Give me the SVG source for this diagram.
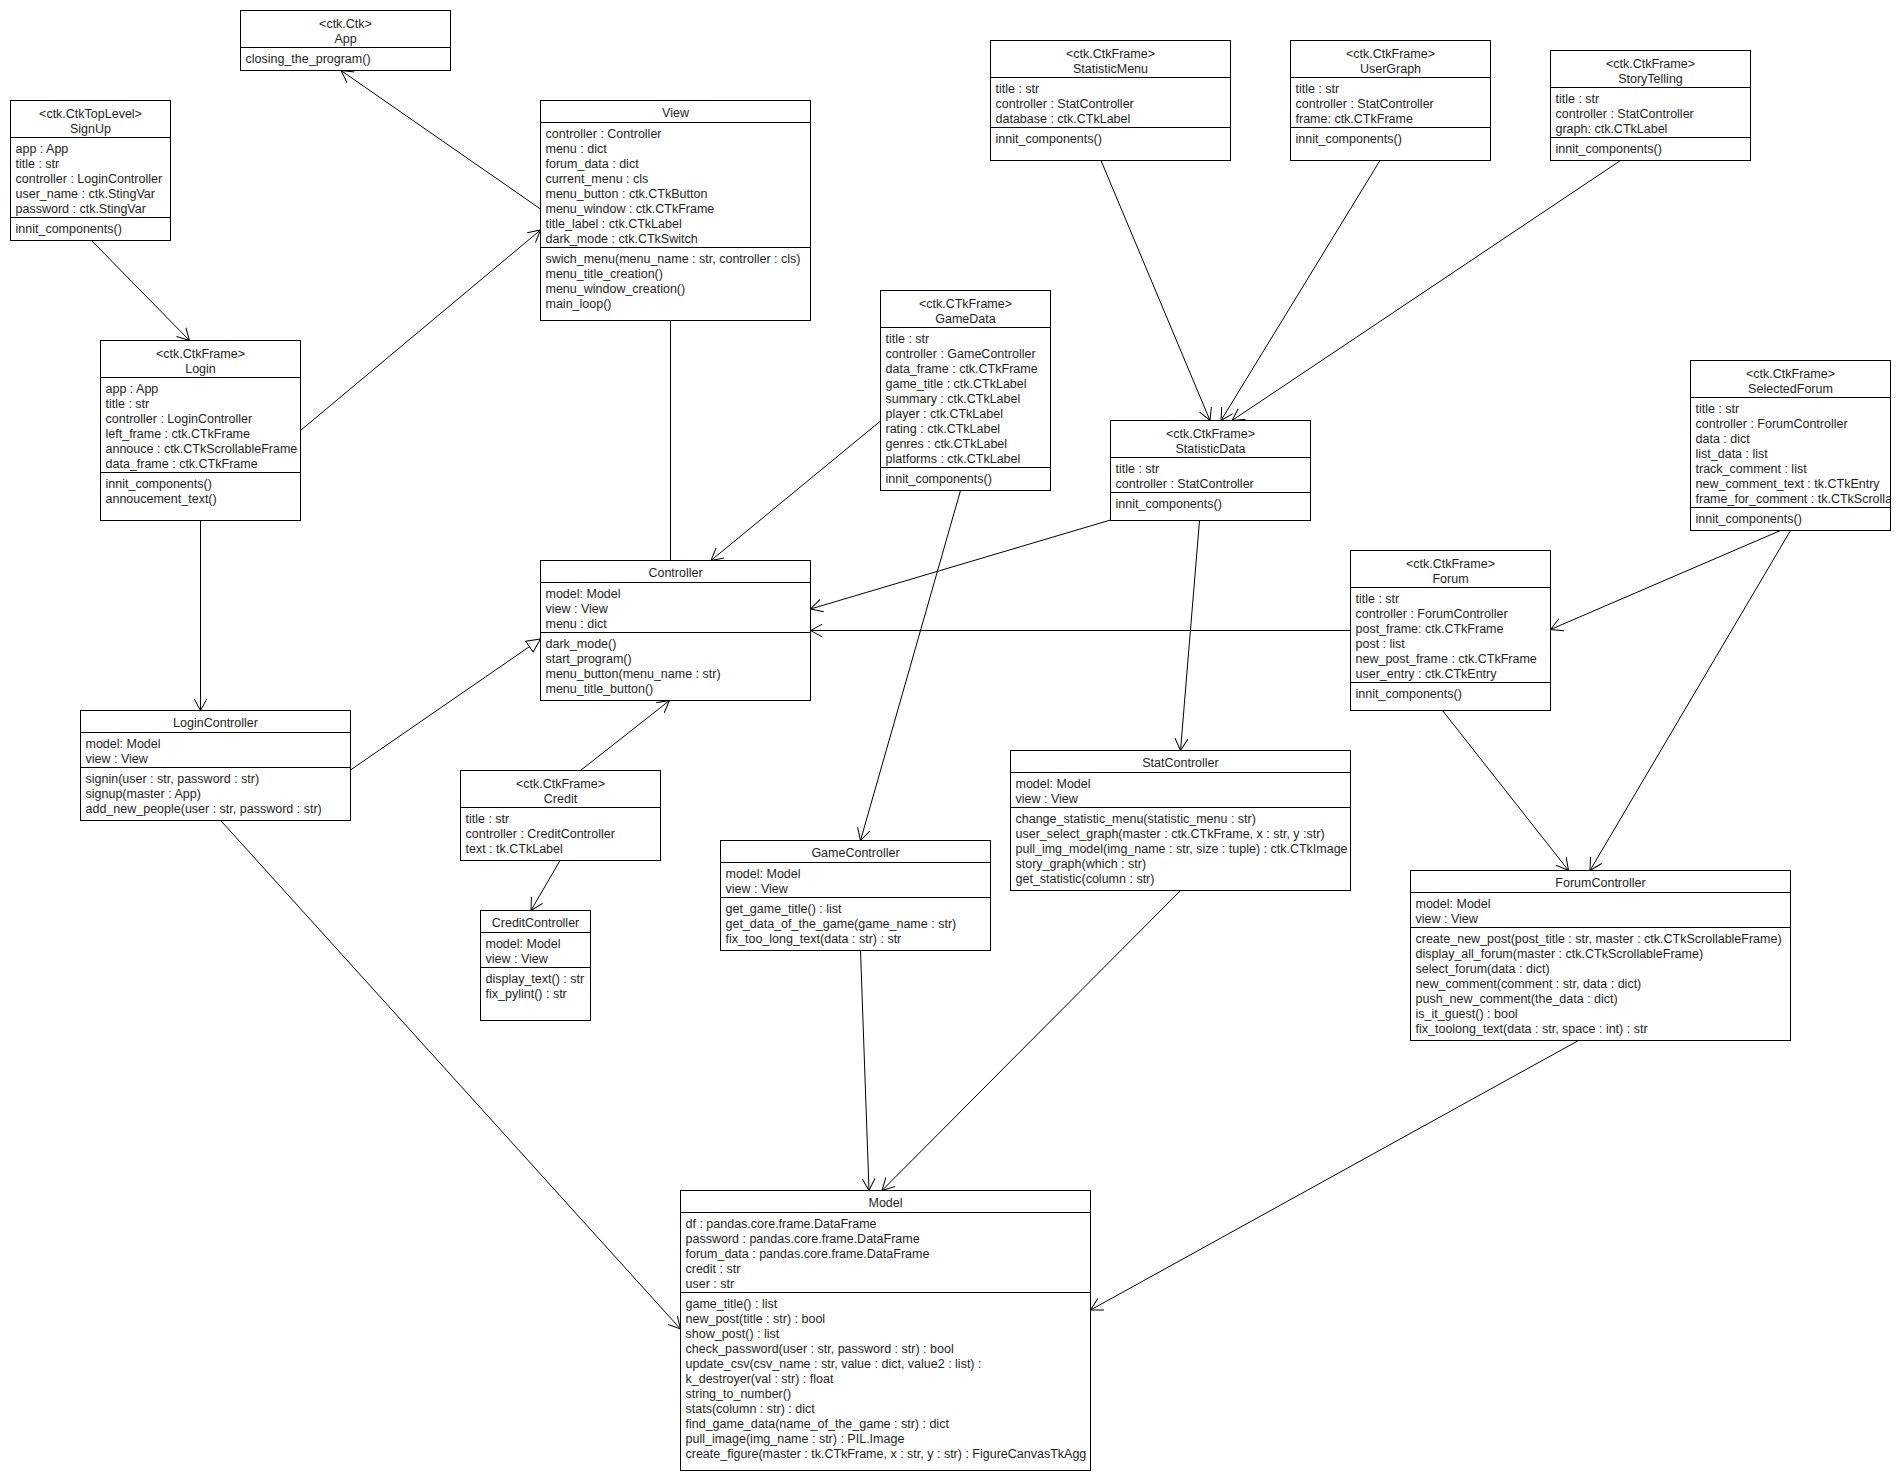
<svg xmlns="http://www.w3.org/2000/svg" width="1900" height="1480" viewBox="0 0 1900 1480">
<style>
.box{fill:#fff;stroke:#000;stroke-width:1}
.sep{stroke:#000;stroke-width:1}
text{font-family:"Liberation Sans",Arial,sans-serif;font-size:12.5px;fill:#1e1e1e}
.c{text-anchor:middle}
.e{stroke:#000;stroke-width:1;fill:none}
.a{marker-end:url(#open)}
.g{marker-end:url(#tri)}
</style>
<defs>
<marker id="open" viewBox="0 0 12 14" refX="12" refY="7" markerWidth="12" markerHeight="14" orient="auto" markerUnits="userSpaceOnUse"><path d="M0,0.5 L12,7 L0,13.5" fill="none" stroke="#000" stroke-width="1"/></marker>
<marker id="tri" viewBox="0 0 15 15" refX="14" refY="7.5" markerWidth="15" markerHeight="15" orient="auto" markerUnits="userSpaceOnUse"><path d="M0.5,1 L14,7.5 L0.5,14 Z" fill="#fff" stroke="#000" stroke-width="1"/></marker>
<clipPath id="clipSF"><rect x="1690.5" y="360.5" width="200" height="170"/></clipPath>
</defs>

<g id="connectors">
<line class="e a" x1="540.5" y1="209" x2="341" y2="70.5"/>
<line class="e a" x1="91.5" y1="240.5" x2="189.5" y2="340.5"/>
<line class="e a" x1="300.5" y1="430.5" x2="540.5" y2="230"/>
<line class="e" x1="670.5" y1="320.5" x2="670.5" y2="560.5"/>
<line class="e a" x1="880.5" y1="421" x2="711" y2="560.5"/>
<line class="e a" x1="200.5" y1="520.5" x2="200.5" y2="710.5"/>
<line class="e g" x1="350.5" y1="770" x2="540.5" y2="639"/>
<line class="e a" x1="580.5" y1="770.5" x2="669.5" y2="700.5"/>
<line class="e a" x1="560" y1="860.5" x2="531" y2="910.5"/>
<line class="e a" x1="220.7" y1="820.5" x2="680.5" y2="1329"/>
<line class="e a" x1="1101" y1="160.5" x2="1210" y2="420.5"/>
<line class="e a" x1="1380" y1="160.5" x2="1221" y2="420.5"/>
<line class="e a" x1="1620.5" y1="160.5" x2="1232" y2="420.5"/>
<line class="e a" x1="1110.5" y1="520" x2="810.5" y2="609"/>
<line class="e a" x1="1199.5" y1="520.5" x2="1180.5" y2="750.5"/>
<line class="e a" x1="960.5" y1="490.5" x2="860.5" y2="840.5"/>
<line class="e a" x1="1350.5" y1="630.5" x2="810.5" y2="630.5"/>
<line class="e a" x1="1780.5" y1="530.5" x2="1550.5" y2="629.5"/>
<line class="e a" x1="1790.5" y1="530.5" x2="1590" y2="870.5"/>
<line class="e a" x1="1442.5" y1="710.5" x2="1568.5" y2="870.5"/>
<line class="e a" x1="860.5" y1="950.5" x2="869" y2="1190.5"/>
<line class="e a" x1="1180.5" y1="890.5" x2="882" y2="1190.5"/>
<line class="e a" x1="1578.5" y1="1040.5" x2="1090.5" y2="1310"/>
</g>

<g id="App">
<rect class="box" x="240.5" y="10.5" width="210" height="60"/>
<line class="sep" x1="240.5" y1="47.5" x2="450.5" y2="47.5"/>
<text class="c" x="345.5" y="27.5">&lt;ctk.Ctk&gt;</text>
<text class="c" x="345.5" y="42.5">App</text>
<text x="245.5" y="62.5">closing_the_program()</text>
</g>

<g id="SignUp">
<rect class="box" x="10.5" y="100.5" width="160" height="140"/>
<line class="sep" x1="10.5" y1="137.5" x2="170.5" y2="137.5"/>
<line class="sep" x1="10.5" y1="217.5" x2="170.5" y2="217.5"/>
<text class="c" x="90.5" y="117.5">&lt;ctk.CtkTopLevel&gt;</text>
<text class="c" x="90.5" y="132.5">SignUp</text>
<text x="15.5" y="152.5">app : App</text>
<text x="15.5" y="167.5">title : str</text>
<text x="15.5" y="182.5">controller : LoginController</text>
<text x="15.5" y="197.5">user_name : ctk.StingVar</text>
<text x="15.5" y="212.5">password : ctk.StingVar</text>
<text x="15.5" y="232.5">innit_components()</text>
</g>

<g id="Login">
<rect class="box" x="100.5" y="340.5" width="200" height="180"/>
<line class="sep" x1="100.5" y1="377.5" x2="300.5" y2="377.5"/>
<line class="sep" x1="100.5" y1="472.5" x2="300.5" y2="472.5"/>
<text class="c" x="200.5" y="357.5">&lt;ctk.CtkFrame&gt;</text>
<text class="c" x="200.5" y="372.5">Login</text>
<text x="105.5" y="392.5">app : App</text>
<text x="105.5" y="407.5">title : str</text>
<text x="105.5" y="422.5">controller : LoginController</text>
<text x="105.5" y="437.5">left_frame : ctk.CTkFrame</text>
<text x="105.5" y="452.5">annouce : ctk.CTkScrollableFrame</text>
<text x="105.5" y="467.5">data_frame : ctk.CTkFrame</text>
<text x="105.5" y="487.5">innit_components()</text>
<text x="105.5" y="502.5">annoucement_text()</text>
</g>

<g id="View">
<rect class="box" x="540.5" y="100.5" width="270" height="220"/>
<line class="sep" x1="540.5" y1="122.5" x2="810.5" y2="122.5"/>
<line class="sep" x1="540.5" y1="247.5" x2="810.5" y2="247.5"/>
<text class="c" x="675.5" y="117">View</text>
<text x="545.5" y="137.5">controller : Controller</text>
<text x="545.5" y="152.5">menu : dict</text>
<text x="545.5" y="167.5">forum_data : dict</text>
<text x="545.5" y="182.5">current_menu : cls</text>
<text x="545.5" y="197.5">menu_button : ctk.CTkButton</text>
<text x="545.5" y="212.5">menu_window : ctk.CTkFrame</text>
<text x="545.5" y="227.5">title_label : ctk.CTkLabel</text>
<text x="545.5" y="242.5">dark_mode : ctk.CTkSwitch</text>
<text x="545.5" y="262.5">swich_menu(menu_name : str, controller : cls)</text>
<text x="545.5" y="277.5">menu_title_creation()</text>
<text x="545.5" y="292.5">menu_window_creation()</text>
<text x="545.5" y="307.5">main_loop()</text>
</g>

<g id="Controller">
<rect class="box" x="540.5" y="560.5" width="270" height="140"/>
<line class="sep" x1="540.5" y1="582.5" x2="810.5" y2="582.5"/>
<line class="sep" x1="540.5" y1="632.5" x2="810.5" y2="632.5"/>
<text class="c" x="675.5" y="577">Controller</text>
<text x="545.5" y="597.5">model: Model</text>
<text x="545.5" y="612.5">view : View</text>
<text x="545.5" y="627.5">menu : dict</text>
<text x="545.5" y="647.5">dark_mode()</text>
<text x="545.5" y="662.5">start_program()</text>
<text x="545.5" y="677.5">menu_button(menu_name : str)</text>
<text x="545.5" y="692.5">menu_title_button()</text>
</g>

<g id="LoginController">
<rect class="box" x="80.5" y="710.5" width="270" height="110"/>
<line class="sep" x1="80.5" y1="732.5" x2="350.5" y2="732.5"/>
<line class="sep" x1="80.5" y1="767.5" x2="350.5" y2="767.5"/>
<text class="c" x="215.5" y="727">LoginController</text>
<text x="85.5" y="747.5">model: Model</text>
<text x="85.5" y="762.5">view : View</text>
<text x="85.5" y="782.5">signin(user : str, password : str)</text>
<text x="85.5" y="797.5">signup(master : App)</text>
<text x="85.5" y="812.5">add_new_people(user : str, password : str)</text>
</g>

<g id="Credit">
<rect class="box" x="460.5" y="770.5" width="200" height="90"/>
<line class="sep" x1="460.5" y1="807.5" x2="660.5" y2="807.5"/>
<text class="c" x="560.5" y="787.5">&lt;ctk.CtkFrame&gt;</text>
<text class="c" x="560.5" y="802.5">Credit</text>
<text x="465.5" y="822.5">title : str</text>
<text x="465.5" y="837.5">controller : CreditController</text>
<text x="465.5" y="852.5">text : tk.CTkLabel</text>
</g>

<g id="CreditController">
<rect class="box" x="480.5" y="910.5" width="110" height="110"/>
<line class="sep" x1="480.5" y1="932.5" x2="590.5" y2="932.5"/>
<line class="sep" x1="480.5" y1="967.5" x2="590.5" y2="967.5"/>
<text class="c" x="535.5" y="927">CreditController</text>
<text x="485.5" y="947.5">model: Model</text>
<text x="485.5" y="962.5">view : View</text>
<text x="485.5" y="982.5">display_text() : str</text>
<text x="485.5" y="997.5">fix_pylint() : str</text>
</g>

<g id="GameData">
<rect class="box" x="880.5" y="290.5" width="170" height="200"/>
<line class="sep" x1="880.5" y1="327.5" x2="1050.5" y2="327.5"/>
<line class="sep" x1="880.5" y1="467.5" x2="1050.5" y2="467.5"/>
<text class="c" x="965.5" y="307.5">&lt;ctk.CTkFrame&gt;</text>
<text class="c" x="965.5" y="322.5">GameData</text>
<text x="885.5" y="342.5">title : str</text>
<text x="885.5" y="357.5">controller : GameController</text>
<text x="885.5" y="372.5">data_frame : ctk.CTkFrame</text>
<text x="885.5" y="387.5">game_title : ctk.CTkLabel</text>
<text x="885.5" y="402.5">summary : ctk.CTkLabel</text>
<text x="885.5" y="417.5">player : ctk.CTkLabel</text>
<text x="885.5" y="432.5">rating : ctk.CTkLabel</text>
<text x="885.5" y="447.5">genres : ctk.CTkLabel</text>
<text x="885.5" y="462.5">platforms  : ctk.CTkLabel</text>
<text x="885.5" y="482.5">innit_components()</text>
</g>

<g id="StatisticMenu">
<rect class="box" x="990.5" y="40.5" width="240" height="120"/>
<line class="sep" x1="990.5" y1="77.5" x2="1230.5" y2="77.5"/>
<line class="sep" x1="990.5" y1="127.5" x2="1230.5" y2="127.5"/>
<text class="c" x="1110.5" y="57.5">&lt;ctk.CtkFrame&gt;</text>
<text class="c" x="1110.5" y="72.5">StatisticMenu</text>
<text x="995.5" y="92.5">title : str</text>
<text x="995.5" y="107.5">controller : StatController</text>
<text x="995.5" y="122.5">database : ctk.CTkLabel</text>
<text x="995.5" y="142.5">innit_components()</text>
</g>

<g id="UserGraph">
<rect class="box" x="1290.5" y="40.5" width="200" height="120"/>
<line class="sep" x1="1290.5" y1="77.5" x2="1490.5" y2="77.5"/>
<line class="sep" x1="1290.5" y1="127.5" x2="1490.5" y2="127.5"/>
<text class="c" x="1390.5" y="57.5">&lt;ctk.CtkFrame&gt;</text>
<text class="c" x="1390.5" y="72.5">UserGraph</text>
<text x="1295.5" y="92.5">title : str</text>
<text x="1295.5" y="107.5">controller : StatController</text>
<text x="1295.5" y="122.5">frame: ctk.CTkFrame</text>
<text x="1295.5" y="142.5">innit_components()</text>
</g>

<g id="StoryTelling">
<rect class="box" x="1550.5" y="50.5" width="200" height="110"/>
<line class="sep" x1="1550.5" y1="87.5" x2="1750.5" y2="87.5"/>
<line class="sep" x1="1550.5" y1="137.5" x2="1750.5" y2="137.5"/>
<text class="c" x="1650.5" y="67.5">&lt;ctk.CtkFrame&gt;</text>
<text class="c" x="1650.5" y="82.5">StoryTelling</text>
<text x="1555.5" y="102.5">title : str</text>
<text x="1555.5" y="117.5">controller : StatController</text>
<text x="1555.5" y="132.5">graph: ctk.CTkLabel</text>
<text x="1555.5" y="152.5">innit_components()</text>
</g>

<g id="StatisticData">
<rect class="box" x="1110.5" y="420.5" width="200" height="100"/>
<line class="sep" x1="1110.5" y1="457.5" x2="1310.5" y2="457.5"/>
<line class="sep" x1="1110.5" y1="492.5" x2="1310.5" y2="492.5"/>
<text class="c" x="1210.5" y="437.5">&lt;ctk.CtkFrame&gt;</text>
<text class="c" x="1210.5" y="452.5">StatisticData</text>
<text x="1115.5" y="472.5">title : str</text>
<text x="1115.5" y="487.5">controller : StatController</text>
<text x="1115.5" y="507.5">innit_components()</text>
</g>

<g id="SelectedForum">
<rect class="box" x="1690.5" y="360.5" width="200" height="170"/>
<line class="sep" x1="1690.5" y1="397.5" x2="1890.5" y2="397.5"/>
<line class="sep" x1="1690.5" y1="507.5" x2="1890.5" y2="507.5"/>
<text class="c" x="1790.5" y="377.5">&lt;ctk.CtkFrame&gt;</text>
<text class="c" x="1790.5" y="392.5">SelectedForum</text>
<g clip-path="url(#clipSF)">
<text x="1695.5" y="412.5">title : str</text>
<text x="1695.5" y="427.5">controller : ForumController</text>
<text x="1695.5" y="442.5">data : dict</text>
<text x="1695.5" y="457.5">list_data : list</text>
<text x="1695.5" y="472.5">track_comment : list</text>
<text x="1695.5" y="487.5">new_comment_text : tk.CTkEntry</text>
<text x="1695.5" y="502.5">frame_for_comment : tk.CTkScrollableFrame</text>
</g>
<text x="1695.5" y="522.5">innit_components()</text>
</g>

<g id="Forum">
<rect class="box" x="1350.5" y="550.5" width="200" height="160"/>
<line class="sep" x1="1350.5" y1="587.5" x2="1550.5" y2="587.5"/>
<line class="sep" x1="1350.5" y1="682.5" x2="1550.5" y2="682.5"/>
<text class="c" x="1450.5" y="567.5">&lt;ctk.CtkFrame&gt;</text>
<text class="c" x="1450.5" y="582.5">Forum</text>
<text x="1355.5" y="602.5">title : str</text>
<text x="1355.5" y="617.5">controller : ForumController</text>
<text x="1355.5" y="632.5">post_frame: ctk.CTkFrame</text>
<text x="1355.5" y="647.5">post : list</text>
<text x="1355.5" y="662.5">new_post_frame : ctk.CTkFrame</text>
<text x="1355.5" y="677.5">user_entry : ctk.CTkEntry</text>
<text x="1355.5" y="697.5">innit_components()</text>
</g>

<g id="StatController">
<rect class="box" x="1010.5" y="750.5" width="340" height="140"/>
<line class="sep" x1="1010.5" y1="772.5" x2="1350.5" y2="772.5"/>
<line class="sep" x1="1010.5" y1="807.5" x2="1350.5" y2="807.5"/>
<text class="c" x="1180.5" y="767">StatController</text>
<text x="1015.5" y="787.5">model: Model</text>
<text x="1015.5" y="802.5">view : View</text>
<text x="1015.5" y="822.5">change_statistic_menu(statistic_menu : str)</text>
<text x="1015.5" y="837.5">user_select_graph(master : ctk.CTkFrame, x : str, y :str)</text>
<text x="1015.5" y="852.5">pull_img_model(img_name : str, size : tuple) : ctk.CTkImage</text>
<text x="1015.5" y="867.5">story_graph(which : str)</text>
<text x="1015.5" y="882.5">get_statistic(column : str)</text>
</g>

<g id="GameController">
<rect class="box" x="720.5" y="840.5" width="270" height="110"/>
<line class="sep" x1="720.5" y1="862.5" x2="990.5" y2="862.5"/>
<line class="sep" x1="720.5" y1="897.5" x2="990.5" y2="897.5"/>
<text class="c" x="855.5" y="857">GameController</text>
<text x="725.5" y="877.5">model: Model</text>
<text x="725.5" y="892.5">view : View</text>
<text x="725.5" y="912.5">get_game_title() : list</text>
<text x="725.5" y="927.5">get_data_of_the_game(game_name : str)</text>
<text x="725.5" y="942.5">fix_too_long_text(data : str) : str</text>
</g>

<g id="ForumController">
<rect class="box" x="1410.5" y="870.5" width="380" height="170"/>
<line class="sep" x1="1410.5" y1="892.5" x2="1790.5" y2="892.5"/>
<line class="sep" x1="1410.5" y1="927.5" x2="1790.5" y2="927.5"/>
<text class="c" x="1600.5" y="887">ForumController</text>
<text x="1415.5" y="907.5">model: Model</text>
<text x="1415.5" y="922.5">view : View</text>
<text x="1415.5" y="942.5">create_new_post(post_title : str, master : ctk.CTkScrollableFrame)</text>
<text x="1415.5" y="957.5">display_all_forum(master : ctk.CTkScrollableFrame)</text>
<text x="1415.5" y="972.5">select_forum(data : dict)</text>
<text x="1415.5" y="987.5">new_comment(comment : str, data : dict)</text>
<text x="1415.5" y="1002.5">push_new_comment(the_data : dict)</text>
<text x="1415.5" y="1017.5">is_it_guest() : bool</text>
<text x="1415.5" y="1032.5">fix_toolong_text(data : str, space : int) : str</text>
</g>

<g id="Model">
<rect class="box" x="680.5" y="1190.5" width="410" height="280"/>
<line class="sep" x1="680.5" y1="1212.5" x2="1090.5" y2="1212.5"/>
<line class="sep" x1="680.5" y1="1292.5" x2="1090.5" y2="1292.5"/>
<text class="c" x="885.5" y="1207">Model</text>
<text x="685.5" y="1227.5">df : pandas.core.frame.DataFrame</text>
<text x="685.5" y="1242.5">password : pandas.core.frame.DataFrame</text>
<text x="685.5" y="1257.5">forum_data : pandas.core.frame.DataFrame</text>
<text x="685.5" y="1272.5">credit : str</text>
<text x="685.5" y="1287.5">user : str</text>
<text x="685.5" y="1307.5">game_title() : list</text>
<text x="685.5" y="1322.5">new_post(title : str) : bool</text>
<text x="685.5" y="1337.5">show_post() : list</text>
<text x="685.5" y="1352.5">check_password(user : str, password : str) : bool</text>
<text x="685.5" y="1367.5">update_csv(csv_name : str, value : dict, value2 : list) :</text>
<text x="685.5" y="1382.5">k_destroyer(val : str) : float</text>
<text x="685.5" y="1397.5">string_to_number()</text>
<text x="685.5" y="1412.5">stats(column : str) : dict</text>
<text x="685.5" y="1427.5">find_game_data(name_of_the_game : str) : dict</text>
<text x="685.5" y="1442.5">pull_image(img_name : str) : PIL.Image</text>
<text x="685.5" y="1457.5">create_figure(master : tk.CTkFrame, x : str, y : str) : FigureCanvasTkAgg</text>
</g>
</svg>
